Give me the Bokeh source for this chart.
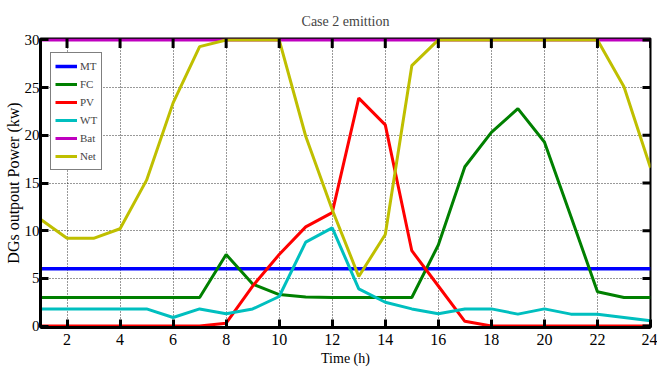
import math
from bokeh.plotting import figure
from bokeh.models import FixedTicker, Range1d, Legend, LegendItem
from bokeh.embed import file_html
from bokeh.resources import INLINE

hours = list(range(1, 25))
mt = [6] * 24
fc = [3, 3, 3, 3, 3, 3, 3, 7.5, 4.4, 3.3, 3.05, 3, 3, 3, 3, 8.5, 16.7, 20.3, 22.8, 19.3, 11.5, 3.6, 3, 3]
pv = [0, 0, 0, 0, 0, 0, 0, 0.3, 4.2, 7.5, 10.4, 11.9, 23.9, 21.1, 7.9, 4.2, 0.5, 0, 0, 0, 0, 0, 0, 0]
wt = [1.8, 1.8, 1.8, 1.8, 1.8, 0.9, 1.8, 1.3, 1.8, 3.1, 8.8, 10.3, 3.9, 2.5, 1.8, 1.3, 1.8, 1.8, 1.25, 1.8, 1.25, 1.25, 0.9, 0.55]
bat = [30] * 24
net = [11.2, 9.2, 9.2, 10.2, 15.3, 23.4, 29.3, 30, 30, 30, 19.9, 12.2, 5.2, 9.6, 27.3, 30, 30, 30, 30, 30, 30, 30, 25.1, 16.6]

names = ["MT", "FC", "PV", "WT", "Bat", "Net"]
series = [mt, fc, pv, wt, bat, net]
colors = ["#0000ff", "#008000", "#ff0000", "#00bfbf", "#bf00bf", "#bfbf00"]
widths = [3.5, 3, 3, 3, 3, 3]

x_ticks = list(range(2, 25, 2))
y_ticks = list(range(0, 31, 5))
x_min, x_max = 1, 24
y_min, y_max = 0, 30

FONT = "Liberation Serif"

p = figure(width=657, height=373, output_backend="svg", toolbar_location=None,
           x_range=Range1d(x_min, x_max), y_range=Range1d(y_min - 0.15, y_max + 0.15),
           min_border_left=40, min_border_right=7, min_border_top=38, min_border_bottom=46,
           title="Case 2 emittion")
p.title.text_font = FONT
p.title.text_font_size = "14px"
p.title.text_font_style = "normal"
p.title.align = "center"
p.title.offset = 0
p.title.standoff = 20

p.background_fill_color = "white"
p.border_fill_color = "white"
p.outline_line_color = "black"
p.outline_line_width = 2

for ax in (p.xaxis[0], p.yaxis[0]):
    ax.axis_line_width = 3
    ax.axis_line_color = "black"
    ax.major_tick_in = 8
    ax.major_tick_out = 0
    ax.major_tick_line_width = 3
    ax.minor_tick_line_color = None
    ax.major_label_text_font = FONT
    ax.major_label_text_font_size = "16px"
    ax.major_label_text_color = "black"
    ax.axis_label_text_font = FONT
    ax.axis_label_text_font_style = "normal"
    ax.axis_label_text_color = "black"

p.xaxis[0].ticker = FixedTicker(ticks=x_ticks)
p.yaxis[0].ticker = FixedTicker(ticks=y_ticks)
p.xaxis[0].axis_label = "Time (h)"
p.xaxis[0].axis_label_text_font_size = "14px"
p.xaxis[0].axis_label_standoff = 3
p.xaxis[0].major_label_standoff = 6
p.yaxis[0].axis_label = "DGs outpout Power (kw)"
p.yaxis[0].axis_label_text_font_size = "16px"
p.yaxis[0].axis_label_standoff = 0
p.yaxis[0].major_label_standoff = 1
p.yaxis[0].major_label_text_font_size = "15px"

p.xgrid.ticker = FixedTicker(ticks=x_ticks)
p.ygrid.ticker = FixedTicker(ticks=y_ticks)
for g in (p.xgrid[0], p.ygrid[0]):
    g.grid_line_color = "black"
    g.grid_line_dash = "1 2"
    g.grid_line_width = 1
    g.grid_line_alpha = 0.8

items = []
for name, ys, c, w in zip(names, series, colors, widths):
    r = p.line(hours, ys, line_color=c, line_width=w)
    items.append(LegendItem(label=name, renderers=[r]))

# inward ticks on the top and right frame edges (clipped to the frame)
p.scatter(x_ticks, [y_max] * len(x_ticks), marker="dash", size=16, angle=math.pi / 2,
          line_color="black", line_width=3)
p.scatter([x_max] * len(y_ticks), y_ticks, marker="dash", size=16,
          line_color="black", line_width=3)

legend = Legend(items=items, location=(10, 157))
legend.label_text_font = FONT
legend.label_text_font_size = "11px"
legend.glyph_width = 22
legend.glyph_height = 18
legend.label_height = 18
legend.label_width = 14
legend.spacing = 0
legend.padding = 4
legend.margin = 0
legend.label_standoff = 3
legend.border_line_color = "black"
legend.border_line_width = 1.5
legend.background_fill_color = "white"
legend.background_fill_alpha = 1
p.add_layout(legend)

open("out.html", "w").write(file_html(p, INLINE))
